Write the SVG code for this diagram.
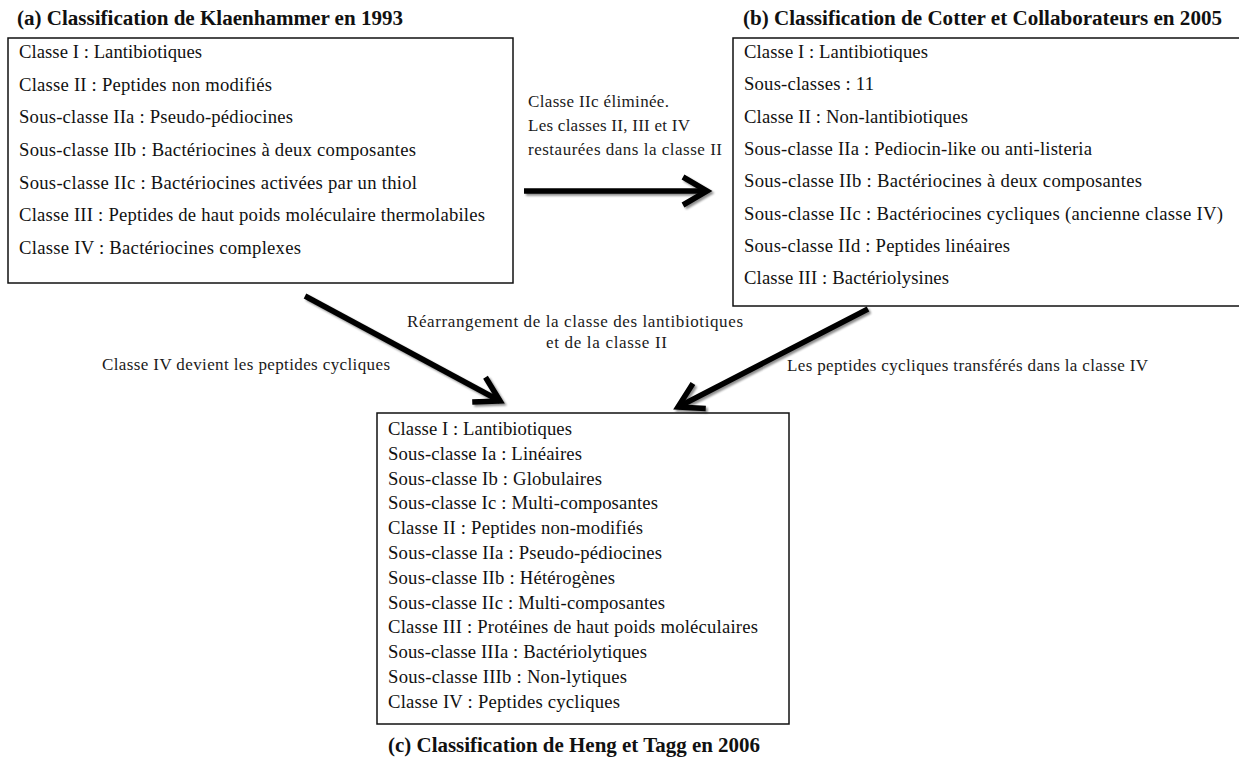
<svg xmlns="http://www.w3.org/2000/svg" width="1239" height="758" viewBox="0 0 1239 758">
<style>
.box{fill:#fff;stroke:#111;stroke-width:1.5}
.t{font-family:"Liberation Serif","Times New Roman",serif;font-size:18.67px;fill:#111}
.title{font-family:"Liberation Serif","Times New Roman",serif;font-size:20px;font-weight:bold;fill:#111}
.lbl{font-family:"Liberation Serif","Times New Roman",serif;font-size:17px;fill:#1a1a1a}
.arr{stroke:#000;stroke-width:5.5;fill:none;stroke-linecap:butt}
</style>
<defs>
<marker id="head" markerUnits="userSpaceOnUse" viewBox="-30 -20 36 40" refX="0" refY="0" markerWidth="36" markerHeight="40" orient="auto">
<path d="M -24 -14 L 0 0 L -24 14" fill="none" stroke="#000" stroke-width="5.5" stroke-linejoin="miter"/>
</marker>
<filter id="shadow" x="-10%" y="-10%" width="120%" height="120%">
<feGaussianBlur in="SourceAlpha" stdDeviation="1.2"/>
<feOffset dx="1.5" dy="1.5" result="b"/>
<feComponentTransfer><feFuncA type="linear" slope="0.45"/></feComponentTransfer>
<feMerge><feMergeNode/><feMergeNode in="SourceGraphic"/></feMerge>
</filter>
</defs>
<rect width="1239" height="758" fill="#fff"/>
<g id="nodeA">
<text class="title" x="17" y="25" textLength="386" lengthAdjust="spacingAndGlyphs">(a) Classification de Klaenhammer en 1993</text>
<rect class="box" x="8" y="38" width="505" height="245"/>
<text class="t" x="19" y="58" textLength="183">Classe I : Lantibiotiques</text>
<text class="t" x="19" y="90.7" textLength="253">Classe II : Peptides non modifiés</text>
<text class="t" x="19" y="123.3" textLength="274">Sous-classe IIa : Pseudo-pédiocines</text>
<text class="t" x="19" y="156" textLength="397">Sous-classe IIb : Bactériocines à deux composantes</text>
<text class="t" x="19" y="188.7" textLength="398">Sous-classe IIc : Bactériocines activées par un thiol</text>
<text class="t" x="19" y="221.3" textLength="466">Classe III : Peptides de haut poids moléculaire thermolabiles</text>
<text class="t" x="19" y="254" textLength="282">Classe IV : Bactériocines complexes</text>
</g>
<g id="nodeB">
<text class="title" x="743" y="25" textLength="479" lengthAdjust="spacingAndGlyphs">(b) Classification de Cotter et Collaborateurs en 2005</text>
<rect class="box" x="733" y="38" width="512" height="268"/>
<text class="t" x="744" y="58" textLength="184">Classe I : Lantibiotiques</text>
<text class="t" x="744" y="90.3" textLength="130">Sous-classes : 11</text>
<text class="t" x="744" y="122.6" textLength="224">Classe II : Non-lantibiotiques</text>
<text class="t" x="744" y="154.9" textLength="348">Sous-classe IIa : Pediocin-like ou anti-listeria</text>
<text class="t" x="744" y="187.2" textLength="398">Sous-classe IIb : Bactériocines à deux composantes</text>
<text class="t" x="744" y="219.5" textLength="479">Sous-classe IIc : Bactériocines cycliques (ancienne classe IV)</text>
<text class="t" x="744" y="251.8" textLength="266">Sous-classe IId : Peptides linéaires</text>
<text class="t" x="744" y="284.1" textLength="205">Classe III : Bactériolysines</text>
</g>
<g id="nodeC">
<rect class="box" x="377" y="413" width="412" height="311"/>
<text class="t" x="388" y="435" textLength="184">Classe I : Lantibiotiques</text>
<text class="t" x="388" y="459.8" textLength="194">Sous-classe Ia : Linéaires</text>
<text class="t" x="388" y="484.6" textLength="214">Sous-classe Ib : Globulaires</text>
<text class="t" x="388" y="509.4" textLength="270">Sous-classe Ic : Multi-composantes</text>
<text class="t" x="388" y="534.2" textLength="255">Classe II : Peptides non-modifiés</text>
<text class="t" x="388" y="559" textLength="274">Sous-classe IIa : Pseudo-pédiocines</text>
<text class="t" x="388" y="583.8" textLength="227">Sous-classe IIb : Hétérogènes</text>
<text class="t" x="388" y="608.6" textLength="277">Sous-classe IIc : Multi-composantes</text>
<text class="t" x="388" y="633.4" textLength="370">Classe III : Protéines de haut poids moléculaires</text>
<text class="t" x="388" y="658.2" textLength="259">Sous-classe IIIa : Bactériolytiques</text>
<text class="t" x="388" y="683" textLength="239">Sous-classe IIIb : Non-lytiques</text>
<text class="t" x="388" y="707.8" textLength="232">Classe IV : Peptides cycliques</text>
<text class="title" x="388" y="752" textLength="372" lengthAdjust="spacingAndGlyphs">(c) Classification de Heng et Tagg en 2006</text>
</g>
<g id="connectors" filter="url(#shadow)">
<line class="arr" x1="524" y1="191" x2="707" y2="191" marker-end="url(#head)"/>
<line class="arr" x1="305" y1="296" x2="500" y2="401" marker-end="url(#head)"/>
<line class="arr" x1="868" y1="309" x2="678" y2="407" marker-end="url(#head)"/>
</g>
<g id="labels">
<text class="lbl" x="528" y="107" textLength="141">Classe IIc éliminée.</text>
<text class="lbl" x="528" y="131" textLength="162">Les classes II, III et IV</text>
<text class="lbl" x="528" y="155" textLength="194">restaurées dans la classe II</text>
<text class="lbl" x="407" y="327" textLength="336">Réarrangement de la classe des lantibiotiques</text>
<text class="lbl" x="546" y="348" textLength="121">et de la classe II</text>
<text class="lbl" x="102" y="370" textLength="288">Classe IV devient les peptides cycliques</text>
<text class="lbl" x="787" y="371" textLength="361">Les peptides cycliques transférés dans la classe IV</text>
</g>
</svg>
